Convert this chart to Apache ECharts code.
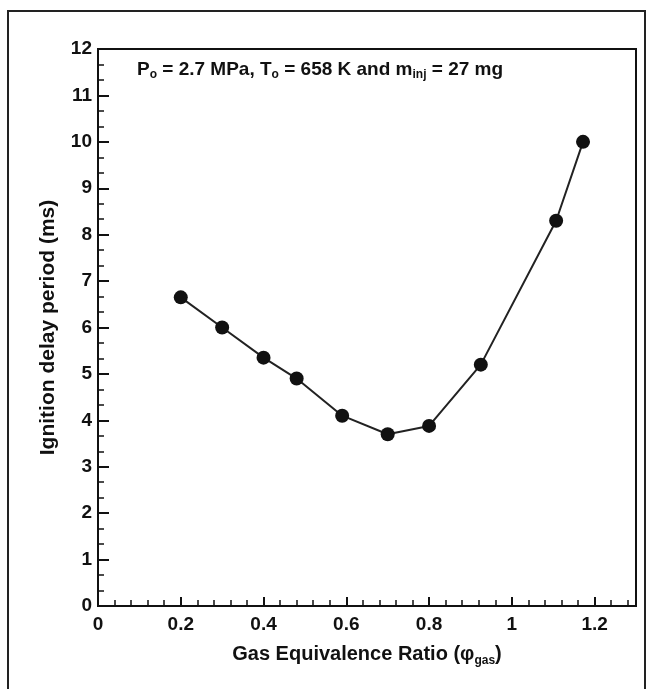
<!DOCTYPE html>
<html>
<head>
<meta charset="utf-8">
<script src="https://cdn.jsdelivr.net/npm/echarts@6/dist/echarts.min.js"></script>
<style>
  html, body { margin: 0; padding: 0; background: #fff; }
  #chart { width: 652px; height: 689px; }
</style>
</head>
<body>
<div id="chart"></div>
<script>
// 燃气当量比与着火延迟
var phiGas = [0.2, 0.3, 0.4, 0.48, 0.59, 0.7, 0.8, 0.925, 1.107, 1.172];
var delayMs = [6.65, 6.0, 5.35, 4.9, 4.1, 3.7, 3.88, 5.2, 8.3, 10.0];

var points = phiGas.map(function (x, i) { return [x, delayMs[i]]; });
var font = 'Liberation Sans';

var myChart = echarts.init(document.getElementById('chart'));
var option = {
    backgroundColor: '#fff',
    animation: false,
    graphic: [
        {
            type: 'rect',
            shape: { x: 8, y: 11, width: 637, height: 700 },
            style: { fill: 'none', stroke: '#222', lineWidth: 2 }
        },
        {
            type: 'text',
            left: 137,
            top: 60,
            style: {
                text: '{b|P}{s|o}{b| = 2.7 MPa, T}{s|o}{b| = 658 K and m}{s|inj}{b| = 27 mg}',
                rich: {
                    b: { fontFamily: font, fontWeight: 'bold', fontSize: 19, fill: '#111', letterSpacing: -0.6 },
                    s: { fontFamily: font, fontWeight: 'bold', fontSize: 12, fill: '#111', padding: [11, 0, 0, 0] }
                }
            }
        }
    ],
    grid: {
        left: 98, top: 49, right: 16, bottom: 83,
        show: true, borderColor: '#111', borderWidth: 2, backgroundColor: 'transparent'
    },
    xAxis: {
        type: 'value',
        min: 0, max: 1.3, interval: 0.2,
        name: 'Gas Equivalence Ratio (φ{s|gas})',
        nameLocation: 'middle',
        nameGap: 36,
        nameTextStyle: {
            fontFamily: font, fontWeight: 'bold', fontSize: 20, color: '#111', letterSpacing: -0.4,
            rich: { s: { fontFamily: font, fontWeight: 'bold', fontSize: 12, color: '#111', padding: [13, 0, 0, 0] } }
        },
        axisLine: { lineStyle: { color: '#111', width: 2 } },
        axisTick: { inside: true, length: 9, lineStyle: { color: '#111', width: 2 } },
        minorTick: { show: true, splitNumber: 5, length: 6, lineStyle: { color: '#111', width: 1.5 } },
        splitLine: { show: false },
        axisLabel: { fontFamily: font, fontWeight: 'bold', fontSize: 19, color: '#111', margin: 9,
            formatter: function (v) { return v > 1.25 ? '' : String(+v.toFixed(1)); } }
    },
    yAxis: {
        type: 'value',
        min: 0, max: 12, interval: 1,
        name: 'Ignition delay period (ms)',
        nameLocation: 'middle',
        nameGap: 39,
        nameTextStyle: { fontFamily: font, fontWeight: 'bold', fontSize: 21, color: '#111' },
        axisLine: { lineStyle: { color: '#111', width: 2 } },
        axisTick: { inside: true, length: 11, lineStyle: { color: '#111', width: 2 } },
        minorTick: { show: true, splitNumber: 3, length: 6, lineStyle: { color: '#111', width: 1.5 } },
        splitLine: { show: false },
        axisLabel: { fontFamily: font, fontWeight: 'bold', fontSize: 19, color: '#111', margin: 6 }
    },
    series: [
        {
            type: 'line',
            data: points,
            symbol: 'circle',
            symbolSize: 14,
            itemStyle: { color: '#111' },
            lineStyle: { color: '#222', width: 2 }
        }
    ]
};
myChart.setOption(option);
</script>
</body>
</html>
